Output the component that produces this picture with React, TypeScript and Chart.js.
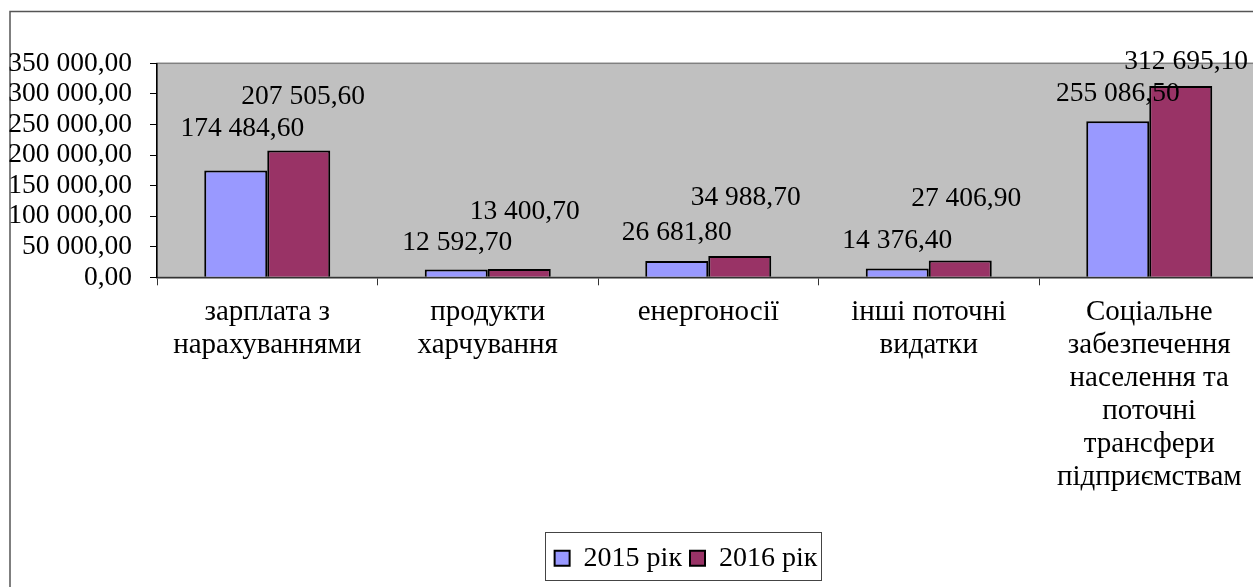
import React, { useEffect, useRef } from "react";
import { Chart, registerables } from "chart.js";

Chart.register(...registerables);

const categories: string[][] = [
  ["зарплата з", "нарахуваннями"],
  ["продукти", "харчування"],
  ["енергоносії"],
  ["інші поточні", "видатки"],
  ["Соціальне", "забезпечення", "населення та", "поточні", "трансфери", "підприємствам"],
];
const seriesNames = ["2015 рік", "2016 рік"];
const values2015 = [174484.6, 12592.7, 26681.8, 14376.4, 255086.5];
const values2016 = [207505.6, 13400.7, 34988.7, 27406.9, 312695.1];
const yTicks = [0, 50000, 100000, 150000, 200000, 250000, 300000, 350000];

// label placement relative to bar top (px), as moved by hand in the original
const labelOffsets2015: [number, number][] = [[6.5, -42], [1, -27], [0, -28], [0, -28], [0, -28]];
const labelOffsets2016: [number, number][] = [[4.5, -54], [5.5, -57], [6, -58], [6, -62], [5.5, -24]];

const FONT_FAMILY = '"Liberation Serif", "Times New Roman", serif';
const NUM_SIZE = 27.5;
const CAT_SIZE = 29;
const LEG_SIZE = 28;
const W = 1300;
const H = 600;
const LEGEND_CX = 686;

function fmt(v: number): string {
  const [i, d] = v.toFixed(2).split(".");
  return i.replace(/\B(?=(\d{3})+(?!\d))/g, " ") + "," + d;
}

const framePlugin = {
  id: "frame",
  afterLayout(chart: any) {
    const lg = chart.legend;
    if (!lg) return;
    const shift = LEGEND_CX - (lg.left + lg.right) / 2;
    lg.left += shift;
    lg.right += shift;
  },
  beforeDraw(chart: any) {
    const { ctx, chartArea } = chart;
    ctx.save();
    ctx.strokeStyle = "#555";
    ctx.lineWidth = 1.5;
    ctx.strokeRect(10, 11.5, W + 20, H + 20);
    ctx.fillStyle = "#C0C0C0";
    ctx.fillRect(chartArea.left, chartArea.top, chartArea.right - chartArea.left, chartArea.bottom - chartArea.top);
    ctx.strokeStyle = "#808080";
    ctx.lineWidth = 1.5;
    ctx.strokeRect(chartArea.left, chartArea.top, chartArea.right - chartArea.left, chartArea.bottom - chartArea.top);
    ctx.restore();
  },
  afterDraw(chart: any) {
    const lg = chart.legend;
    if (!lg || !lg.legendHitBoxes || !lg.legendHitBoxes.length) return;
    const hb = lg.legendHitBoxes;
    const first = hb[0];
    const last = hb[hb.length - 1];
    const ctx = chart.ctx;
    ctx.save();
    ctx.strokeStyle = "#444";
    ctx.lineWidth = 1;
    const l = Math.round(first.left - 10) + 0.5;
    const r = Math.round(last.left + last.width + 4) + 0.5;
    const t = Math.round(first.top - 12.6) + 0.5;
    const b = Math.round(first.top + first.height + 7.7) + 0.5;
    ctx.strokeRect(l, t, r - l, b - t);
    ctx.restore();
  },
};

const labelPlugin = {
  id: "valueLabels",
  afterDatasetsDraw(chart: any) {
    const ctx = chart.ctx;
    const offsets = [labelOffsets2015, labelOffsets2016];
    ctx.save();
    ctx.font = `${NUM_SIZE}px ${FONT_FAMILY}`;
    ctx.fillStyle = "#000";
    ctx.textAlign = "center";
    ctx.textBaseline = "middle";
    chart.data.datasets.forEach((ds: any, di: number) => {
      const meta = chart.getDatasetMeta(di);
      meta.data.forEach((el: any, i: number) => {
        const off = offsets[di][i];
        ctx.fillText(fmt(ds.data[i]), el.x + off[0], el.y + off[1]);
      });
    });
    ctx.restore();
  },
};

export default function App() {
  const ref = useRef<HTMLCanvasElement | null>(null);
  useEffect(() => {
    if (!ref.current) return;
    Chart.defaults.font.family = FONT_FAMILY;
    Chart.defaults.color = "#000";
    const chart = new Chart(ref.current, {
      type: "bar",
      data: {
        labels: categories,
        datasets: [
          {
            label: seriesNames[0],
            data: values2015,
            backgroundColor: "#9999FF",
            borderColor: "#000",
            borderWidth: 2,
            categoryPercentage: 0.5714,
            barPercentage: 1,
          },
          {
            label: seriesNames[1],
            data: values2016,
            backgroundColor: "#993366",
            borderColor: "#000",
            borderWidth: 2,
            categoryPercentage: 0.5714,
            barPercentage: 1,
          },
        ],
      },
      options: {
        responsive: false,
        animation: false,
        layout: { padding: { left: 0, right: W - 1259.5, top: 63.3, bottom: 17.7 } },
        plugins: {
          tooltip: { enabled: false },
          legend: {
            position: "bottom",
            align: "center",
            labels: {
              boxWidth: 15,
              boxHeight: 15,
              padding: 8,
              color: "#000",
              font: { size: LEG_SIZE, family: FONT_FAMILY },
            },
          },
        },
        scales: {
          x: {
            offset: true,
            grid: {
              offset: true,
              drawOnChartArea: false,
              drawTicks: true,
              tickLength: 8,
              color: "#333",
            },
            border: { display: true, color: "#333", width: 1.5 },
            ticks: {
              padding: 11,
              maxRotation: 0,
              autoSkip: false,
              color: "#000",
              font: { size: CAT_SIZE, family: FONT_FAMILY, lineHeight: "33px" },
            },
            afterFit(scale: any) {
              scale.height = 259;
            },
          },
          y: {
            min: 0,
            max: 350000,
            afterBuildTicks(scale: any) {
              scale.ticks = yTicks.map((v) => ({ value: v }));
            },
            grid: {
              drawOnChartArea: false,
              drawTicks: true,
              tickLength: 7,
              color: "#000",
            },
            border: { display: true, color: "#000", width: 1.5 },
            ticks: {
              padding: 18,
              autoSkip: false,
              color: "#000",
              font: { size: NUM_SIZE, family: FONT_FAMILY },
              callback: (v: any) => fmt(Number(v)),
            },
            afterFit(scale: any) {
              scale.width = 157;
            },
          },
        },
      },
      plugins: [framePlugin, labelPlugin],
    });
    return () => chart.destroy();
  }, []);
  return (
    <div
      style={{
        position: "fixed",
        left: 0,
        top: 0,
        width: 1253,
        height: 587,
        overflow: "hidden",
        background: "#fff",
      }}
    >
      <canvas ref={ref} width={W} height={H} style={{ display: "block", width: W, height: H }} />
    </div>
  );
}
